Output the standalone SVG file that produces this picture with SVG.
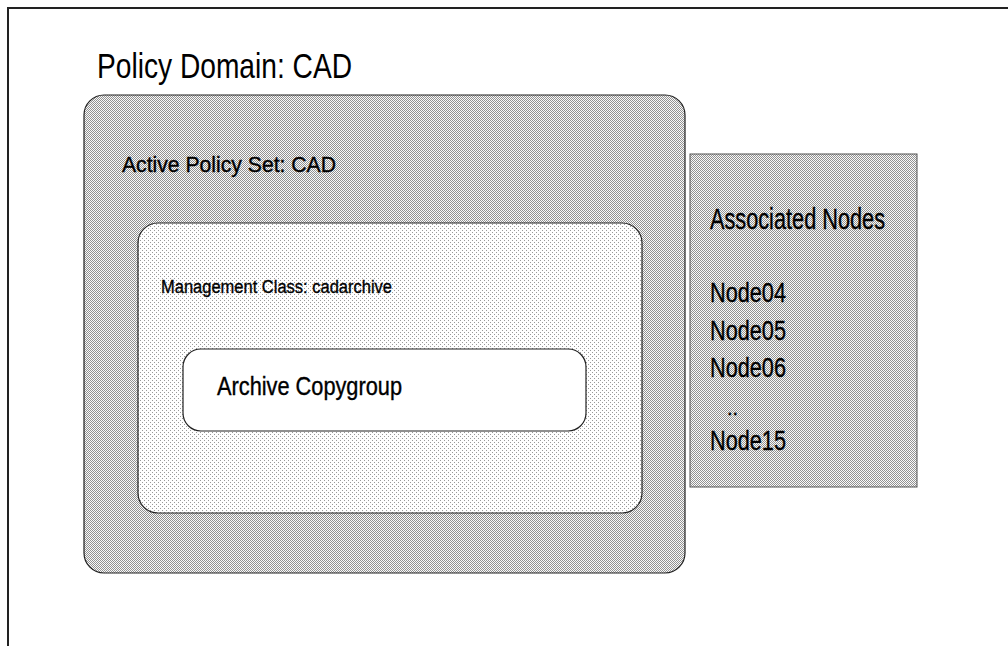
<svg xmlns="http://www.w3.org/2000/svg" width="1008" height="646" viewBox="0 0 1008 646">
  <style>
    .lbl { font-family: "Liberation Sans", Arial, sans-serif; fill: #000; stroke: #000; stroke-width: 0.35; }
    .title { font-family: "Liberation Sans", Arial, sans-serif; fill: #000; }
    .edge { stroke: #222; stroke-width: 1.2; }
    .frame { stroke: #222; stroke-width: 2; fill: none; }
  </style>
  <defs>
    <!-- dense checkered halftone for the policy domain and node list -->
    <pattern id="dense" width="2" height="2" patternUnits="userSpaceOnUse">
      <rect width="2" height="2" fill="#fafafa"/>
      <rect x="0" y="0" width="1" height="1" fill="#929292"/>
      <rect x="1" y="1" width="1" height="1" fill="#929292"/>
    </pattern>
    <!-- light halftone for the management class -->
    <pattern id="light" width="4" height="4" patternUnits="userSpaceOnUse">
      <rect width="4" height="4" fill="#fff"/>
      <rect x="0" y="0" width="1" height="1" fill="#999"/>
      <rect x="2" y="2" width="1" height="1" fill="#999"/>
    </pattern>
  </defs>

  <!-- page frame -->
  <path class="frame" d="M8,646 V8 H1008"/>

  <g id="title">
    <text class="title" x="97" y="78" font-size="35" textLength="255" lengthAdjust="spacingAndGlyphs">Policy Domain: CAD</text>
  </g>

  <g id="policy-domain">
    <rect class="edge" x="84" y="95" width="601" height="478" rx="20" ry="20" fill="url(#dense)"/>
    <text class="lbl" x="122" y="172" font-size="22" textLength="214" lengthAdjust="spacingAndGlyphs">Active Policy Set:  CAD</text>
  </g>

  <g id="management-class">
    <rect class="edge" x="138" y="223" width="504" height="290" rx="20" ry="20" fill="url(#light)"/>
    <text class="lbl" x="161" y="293" font-size="18" textLength="231" lengthAdjust="spacingAndGlyphs">Management Class:  cadarchive</text>
  </g>

  <g id="archive-copygroup">
    <rect class="edge" x="183" y="349" width="403" height="82" rx="18" ry="18" fill="#fff"/>
    <text class="lbl" x="217" y="395" font-size="25" textLength="185" lengthAdjust="spacingAndGlyphs">Archive Copygroup</text>
  </g>

  <g id="associated-nodes">
    <rect x="690" y="154" width="227" height="333" fill="url(#dense)" stroke="#555" stroke-width="1"/>
    <text class="lbl" x="710" y="229" font-size="29" textLength="175" lengthAdjust="spacingAndGlyphs">Associated Nodes</text>
    <text class="lbl" x="710" y="302" font-size="28" textLength="76" lengthAdjust="spacingAndGlyphs">Node04</text>
    <text class="lbl" x="710" y="340" font-size="28" textLength="76" lengthAdjust="spacingAndGlyphs">Node05</text>
    <text class="lbl" x="710" y="377" font-size="28" textLength="76" lengthAdjust="spacingAndGlyphs">Node06</text>
    <text class="lbl" x="727" y="415" font-size="20">..</text>
    <text class="lbl" x="710" y="450" font-size="28" textLength="76" lengthAdjust="spacingAndGlyphs">Node15</text>
  </g>

  <g id="connectors"/>
</svg>
